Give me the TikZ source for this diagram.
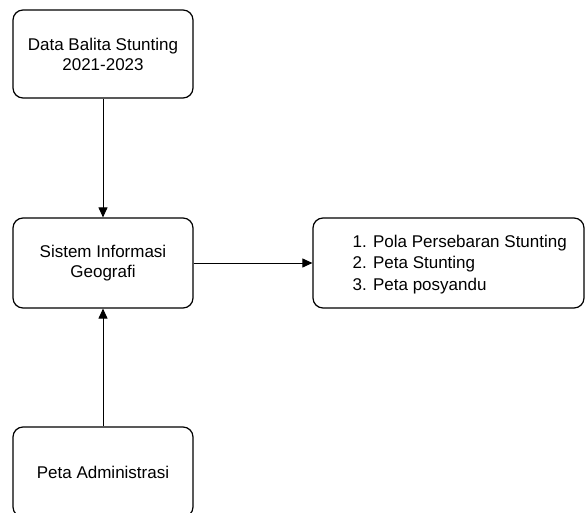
\documentclass[tikz,border=0pt]{standalone}
\usepackage{fontspec}
\setmainfont{Liberation Sans}
\usetikzlibrary{arrows.meta}

\tikzset{
  kotak/.style={draw, rounded corners=10pt, line width=1.2pt, minimum width=180pt,
    minimum height=88pt, align=center, inner sep=0pt,
    font=\fontsize{17}{20}\selectfont},
  panah/.style={line width=1pt, -{Triangle[length=10pt,width=9pt]}}
}

\begin{document}
\begin{tikzpicture}[x=1pt,y=1pt,yscale=-1]
  \useasboundingbox (0,0) rectangle (586,513);
  \clip (0,0) rectangle (586,513);

  % boxes
  \node[kotak] (data) at (103,54) {Data Balita Stunting\\2021-2023};
  \node[kotak, minimum height=90pt] (sig) at (103,263) {Sistem Informasi\\Geografi};
  \node[kotak, minimum height=90pt] (peta) at (103,472) {Peta Administrasi};
  \node[kotak, minimum width=271pt, minimum height=90pt] (hasil) at (448.5,263) {};
  \node[anchor=west, align=left, inner sep=0pt, font=\fontsize{17}{21.5}\selectfont]
    (hasiltxt) at ([xshift=40pt,yshift=1.5pt]hasil.west) {1. Pola Persebaran Stunting\\2. Peta Stunting\\3. Peta posyandu};

  % arrows
  \draw[panah] (data) -- (sig);
  \draw[panah] (peta) -- (sig);
  \draw[panah] (sig) -- (hasil);
\end{tikzpicture}
\end{document}
